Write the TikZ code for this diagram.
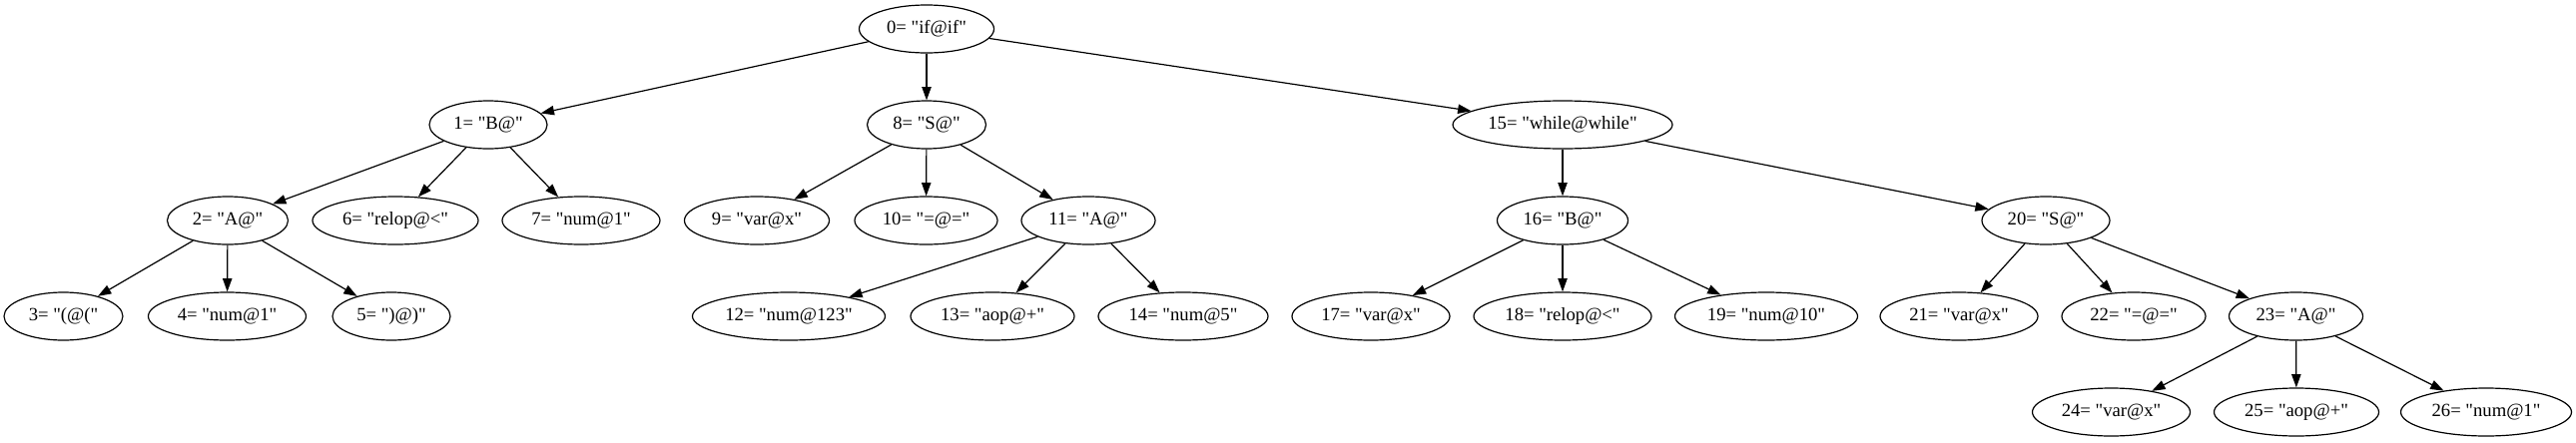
\documentclass[tikz,border=0pt]{standalone}
\usepackage{fontspec}
\setmainfont{Liberation Serif}[Ligatures=TeXOff]
\usetikzlibrary{arrows.meta,shapes.geometric}
\tikzset{
  gv/.style={draw, ellipse, inner sep=0pt, minimum height=36pt, line width=0.9pt,
             font=\fontsize{14pt}{16pt}\selectfont},
  ew/.style={minimum width=#1*0.75pt},
  edge/.style={-{Triangle[length=10pt,width=7pt]}, line width=0.9pt}
}
\begin{document}
\begin{tikzpicture}[x=0.75pt,y=-0.75pt]
\useasboundingbox (0,0) rectangle (2580,443);
% level 0
\node[gv,ew=135] (n0) at (928,29) {0= "if@if"};
% level 1
\node[gv,ew=118] (n1) at (489,125) {1= "B@"};
\node[gv,ew=119] (n8) at (928,125) {8= "S@"};
\node[gv,ew=220] (n15) at (1565,125) {15= "while@while"};
% level 2
\node[gv,ew=121] (n2) at (228,221) {2= "A@"};
\node[gv,ew=166] (n6) at (396,221) {6= "relop@<"};
\node[gv,ew=158] (n7) at (582,221) {7= "num@1"};
\node[gv,ew=145] (n9) at (758,221) {9= "var@x"};
\node[gv,ew=143] (n10) at (927.5,221) {10= "=@="};
\node[gv,ew=134] (n11) at (1090,221) {11= "A@"};
\node[gv,ew=131] (n16) at (1565,221) {16= "B@"};
\node[gv,ew=128] (n20) at (2049,221) {20= "S@"};
% level 3
\node[gv,ew=119] (n3) at (63.5,317) {3= "(@("};
\node[gv,ew=158] (n4) at (227.5,317) {4= "num@1"};
\node[gv,ew=118] (n5) at (392,317) {5= ")@)"};
\node[gv,ew=193] (n12) at (790,317) {12= "num@123"};
\node[gv,ew=164] (n13) at (994,317) {13= "aop@+"};
\node[gv,ew=170] (n14) at (1185,317) {14= "num@5"};
\node[gv,ew=158] (n17) at (1373,317) {17= "var@x"};
\node[gv,ew=178] (n18) at (1565,317) {18= "relop@<"};
\node[gv,ew=183] (n19) at (1769,317) {19= "num@10"};
\node[gv,ew=158] (n21) at (1962,317) {21= "var@x"};
\node[gv,ew=144] (n22) at (2137,317) {22= "=@="};
\node[gv,ew=134] (n23) at (2299.5,317) {23= "A@"};
% level 4
\node[gv,ew=158] (n24) at (2114.5,413) {24= "var@x"};
\node[gv,ew=165] (n25) at (2300,413) {25= "aop@+"};
\node[gv,ew=171] (n26) at (2490,413) {26= "num@1"};
% edges
\draw[edge] (n0) -- (n1);
\draw[edge] (n0) -- (n8);
\draw[edge] (n0) -- (n15);
\draw[edge] (n1) -- (n2);
\draw[edge] (n1) -- (n6);
\draw[edge] (n1) -- (n7);
\draw[edge] (n2) -- (n3);
\draw[edge] (n2) -- (n4);
\draw[edge] (n2) -- (n5);
\draw[edge] (n8) -- (n9);
\draw[edge] (n8) -- (n10);
\draw[edge] (n8) -- (n11);
\draw[edge] (n11) -- (n12);
\draw[edge] (n11) -- (n13);
\draw[edge] (n11) -- (n14);
\draw[edge] (n15) -- (n16);
\draw[edge] (n15) -- (n20);
\draw[edge] (n16) -- (n17);
\draw[edge] (n16) -- (n18);
\draw[edge] (n16) -- (n19);
\draw[edge] (n20) -- (n21);
\draw[edge] (n20) -- (n22);
\draw[edge] (n20) -- (n23);
\draw[edge] (n23) -- (n24);
\draw[edge] (n23) -- (n25);
\draw[edge] (n23) -- (n26);
\end{tikzpicture}
\end{document}
